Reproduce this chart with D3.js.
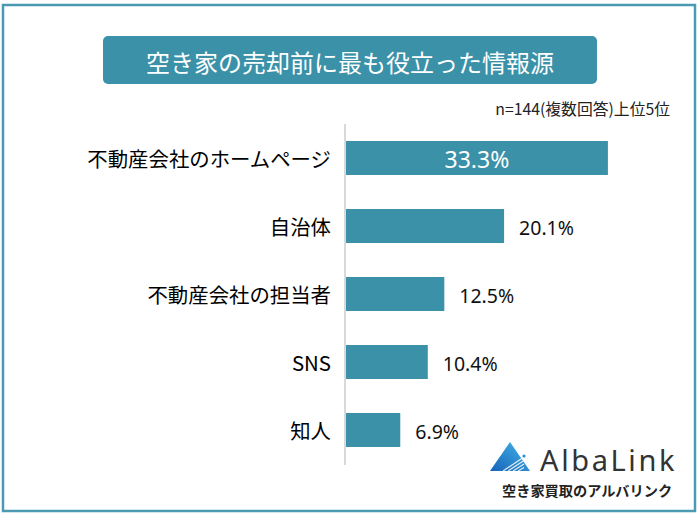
<!DOCTYPE html>
<html><head><meta charset="utf-8">
<script src="https://cdn.jsdelivr.net/npm/d3@7"></script>
<style>body{margin:0;background:#fff}svg{display:block}</style>
</head><body>
<script>
const categories = ["不動産会社のホームページ","自治体","不動産会社の担当者","SNS","知人"];
const values = [33.3, 20.1, 12.5, 10.4, 6.9];
const valueLabels = ["33.3%","20.1%","12.5%","10.4%","6.9%"];
const titleText = "空き家の売却前に最も役立った情報源";
const noteText = "n=144(複数回答)上位5位";

const W=700,H=516, teal="#3a91a8";
const svg=d3.select("body").append("svg").attr("width",W).attr("height",H);
svg.append("rect").attr("width",W).attr("height",H).attr("fill","#fff");
svg.append("rect").attr("x",3).attr("y",5).attr("width",692).attr("height",506)
  .attr("fill","none").attr("stroke","#4a9ab4").attr("stroke-width",2.5);

// title
svg.append("rect").attr("x",103).attr("y",36).attr("width",494).attr("height",48).attr("rx",5).attr("fill",teal);
svg.append("text").attr("x",350).attr("y",61).attr("text-anchor","middle").attr("dominant-baseline","central")
  .attr("fill","#fff").style("font-family","'Noto Sans CJK JP'").style("font-size","24px").text(titleText);
svg.append("text").attr("x",670).attr("y",115).attr("text-anchor","end")
  .attr("fill","#222").style("font-family","'Noto Sans CJK JP'").style("font-size","15.8px").text(noteText);

const x=d3.scaleLinear().domain([0,1]).range([346,346+7.865]);
const y=d3.scaleBand().domain(categories).range([124,464]).paddingInner(0.5).paddingOuter(0.25);

svg.append("line").attr("x1",345).attr("x2",345).attr("y1",124).attr("y2",465)
  .attr("stroke","#d9d9d9").attr("stroke-width",2);

svg.selectAll(".bar").data(values).join("rect")
  .attr("x",x(0)).attr("y",(d,i)=>y(categories[i]))
  .attr("width",d=>x(d)-x(0)).attr("height",y.bandwidth()).attr("fill",teal);

svg.selectAll(".cat").data(categories).join("text")
  .attr("x",331).attr("y",d=>y(d)+y.bandwidth()/2).attr("text-anchor","end").attr("dominant-baseline","central")
  .attr("fill","#000").style("font-family","'Noto Sans CJK JP'").style("font-size","20.4px").text(d=>d);

svg.selectAll(".val").data(values).join("text")
  .attr("x",(d,i)=>i===0?(x(0)+x(d))/2:x(d)+15)
  .attr("y",(d,i)=>y(categories[i])+y.bandwidth()/2+1)
  .attr("text-anchor",(d,i)=>i===0?"middle":"start").attr("dominant-baseline","central")
  .attr("fill",(d,i)=>i===0?"#fff":"#111")
  .style("font-family","'Noto Sans'").style("font-size",(d,i)=>i===0?"23px":"19.5px")
  .text((d,i)=>valueLabels[i]);

// logo
const defs=svg.append("defs");
const g=defs.append("linearGradient").attr("id","lg").attr("x1","0").attr("y1","1").attr("x2","1").attr("y2","0");
g.append("stop").attr("offset","0").attr("stop-color","#1763b8");
g.append("stop").attr("offset","1").attr("stop-color","#45b6ea");
svg.append("path").attr("d","M510,442 L490,471 L530,471 Z").attr("fill","url(#lg)");
[0,1,2,3].forEach(i=>{
  svg.append("line").attr("x1",503+i*5).attr("y1",471).attr("x2",524).attr("y2",457+i*3.5)
    .attr("stroke","#fff").attr("stroke-width",1.2).attr("opacity",0.85);
});
svg.append("circle").attr("cx",524).attr("cy",456).attr("r",1.6).attr("fill","#2a8fd8");
svg.append("text").attr("x",540).attr("y",471).attr("fill","#333")
  .style("font-family","'Noto Sans'").style("font-size","29px").style("letter-spacing","2.6px").text("AlbaLink");
svg.append("text").attr("x",502).attr("y",490).attr("dominant-baseline","central").attr("fill","#222")
  .style("font-family","'Noto Sans CJK JP'").style("font-size","14.2px").style("font-weight","bold").text("空き家買取のアルバリンク");
</script>
</body></html>
